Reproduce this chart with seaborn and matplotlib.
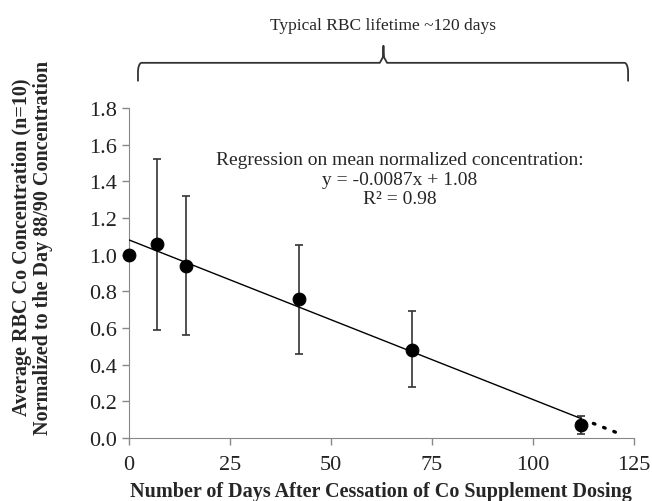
import seaborn as sns
import matplotlib.pyplot as plt
import pandas as pd
import numpy as np

# data
days = [0, 7, 14, 42, 70, 112]
mean_conc = [1.00, 1.06, 0.94, 0.76, 0.48, 0.07]
err_low = [1.00, 0.59, 0.56, 0.46, 0.28, 0.02]
err_high = [1.00, 1.52, 1.32, 1.05, 0.69, 0.12]

slope = -0.0087
intercept = 1.08
fit_days = [0, 112]
extrap_days = [115, 122]

brace_days = [2.2, 63, 123.6]

sns.set_style("ticks")
plt.rcParams['font.family'] = ['Liberation Serif', 'DejaVu Serif']

df = pd.DataFrame({'day': days, 'conc': mean_conc})
lo = np.array(mean_conc) - np.array(err_low)
hi = np.array(err_high) - np.array(mean_conc)

fig = plt.figure(figsize=(6.52, 5.02), dpi=100)
ax = fig.add_axes([0.198, 0.1255, 0.774, 0.6575])

ax.errorbar(days, mean_conc, yerr=[lo, hi], fmt='none', ecolor='#333333',
            elinewidth=1.2, capsize=3, capthick=1.2, zorder=2)

fit = pd.DataFrame({'day': fit_days})
fit['conc'] = intercept + slope * fit['day']
sns.lineplot(data=fit, x='day', y='conc', color='black', linewidth=1.0, ax=ax, zorder=3)

ext = pd.DataFrame({'day': extrap_days})
ext['conc'] = intercept + slope * ext['day']
ax.plot(ext['day'], ext['conc'], color='black', linestyle=(0, (0.5, 2.8)),
        linewidth=2.4, dash_capstyle='round')

sns.scatterplot(data=df, x='day', y='conc', color='black', s=85, edgecolor='black',
                ax=ax, zorder=4, clip_on=False)

ax.set_xlim(0, 125)
ax.set_ylim(0, 1.8)
ax.set_xticks([0, 25, 50, 75, 100, 125])
ax.set_yticks(np.arange(0, 1.81, 0.2))
ax.set_yticklabels([f"{v:.1f}" for v in np.arange(0, 1.81, 0.2)])
ax.tick_params(axis='both', labelsize=16, color='#888888', length=5, width=1,
               labelcolor='#222222')
ax.tick_params(axis='x', pad=7)
ax.tick_params(axis='y', pad=4)
for s in ['left', 'bottom']:
    ax.spines[s].set_color('#888888')
for s in ['top', 'right']:
    ax.spines[s].set_visible(False)

ax.set_xlabel('Number of Days After Cessation of Co Supplement Dosing',
              fontsize=14.5, fontweight='bold', labelpad=5)
ax.set_ylabel('Average RBC Co Concentration (n=10)\nNormalized to the Day 88/90 Concentration',
              fontsize=14.5, fontweight='bold', linespacing=1.1)
ax.yaxis.set_label_coords(-0.15, 0.58)

ax.text(67, 1.565, 'Regression on mean normalized concentration:\n'
        f'y = {slope}x + {intercept}\nR\u00b2 = 0.98',
        ha='center', va='top', fontsize=14, linespacing=1.2)

# curly brace above the plot
b0, bm, b1 = brace_days
y_end, y_bar, y_tip = 1.948, 2.046, 2.139
t = np.linspace(0, np.pi / 2, 10)
rx, ry = 0.9, 0.05
left_corner_x = b0 + rx - rx * np.cos(t)
left_corner_y = y_bar - ry + ry * np.sin(t)
right_corner_x = b1 - rx + rx * np.cos(t[::-1])
right_corner_y = y_bar - ry + ry * np.sin(t[::-1])
path_x = np.concatenate([[b0], left_corner_x, [bm - 0.9, bm - 0.15, bm, bm + 0.15, bm + 0.9],
                         right_corner_x, [b1]])
path_y = np.concatenate([[y_end], left_corner_y, [y_bar, y_bar + 0.03, y_tip, y_bar + 0.03, y_bar],
                         right_corner_y, [y_end]])
ax.plot(path_x, path_y, color='#333333', linewidth=1.3, clip_on=False)
ax.text(bm, 2.255, 'Typical RBC lifetime ~120 days', ha='center', va='center',
        fontsize=12.5)

fig.savefig('out.png', dpi=100)
